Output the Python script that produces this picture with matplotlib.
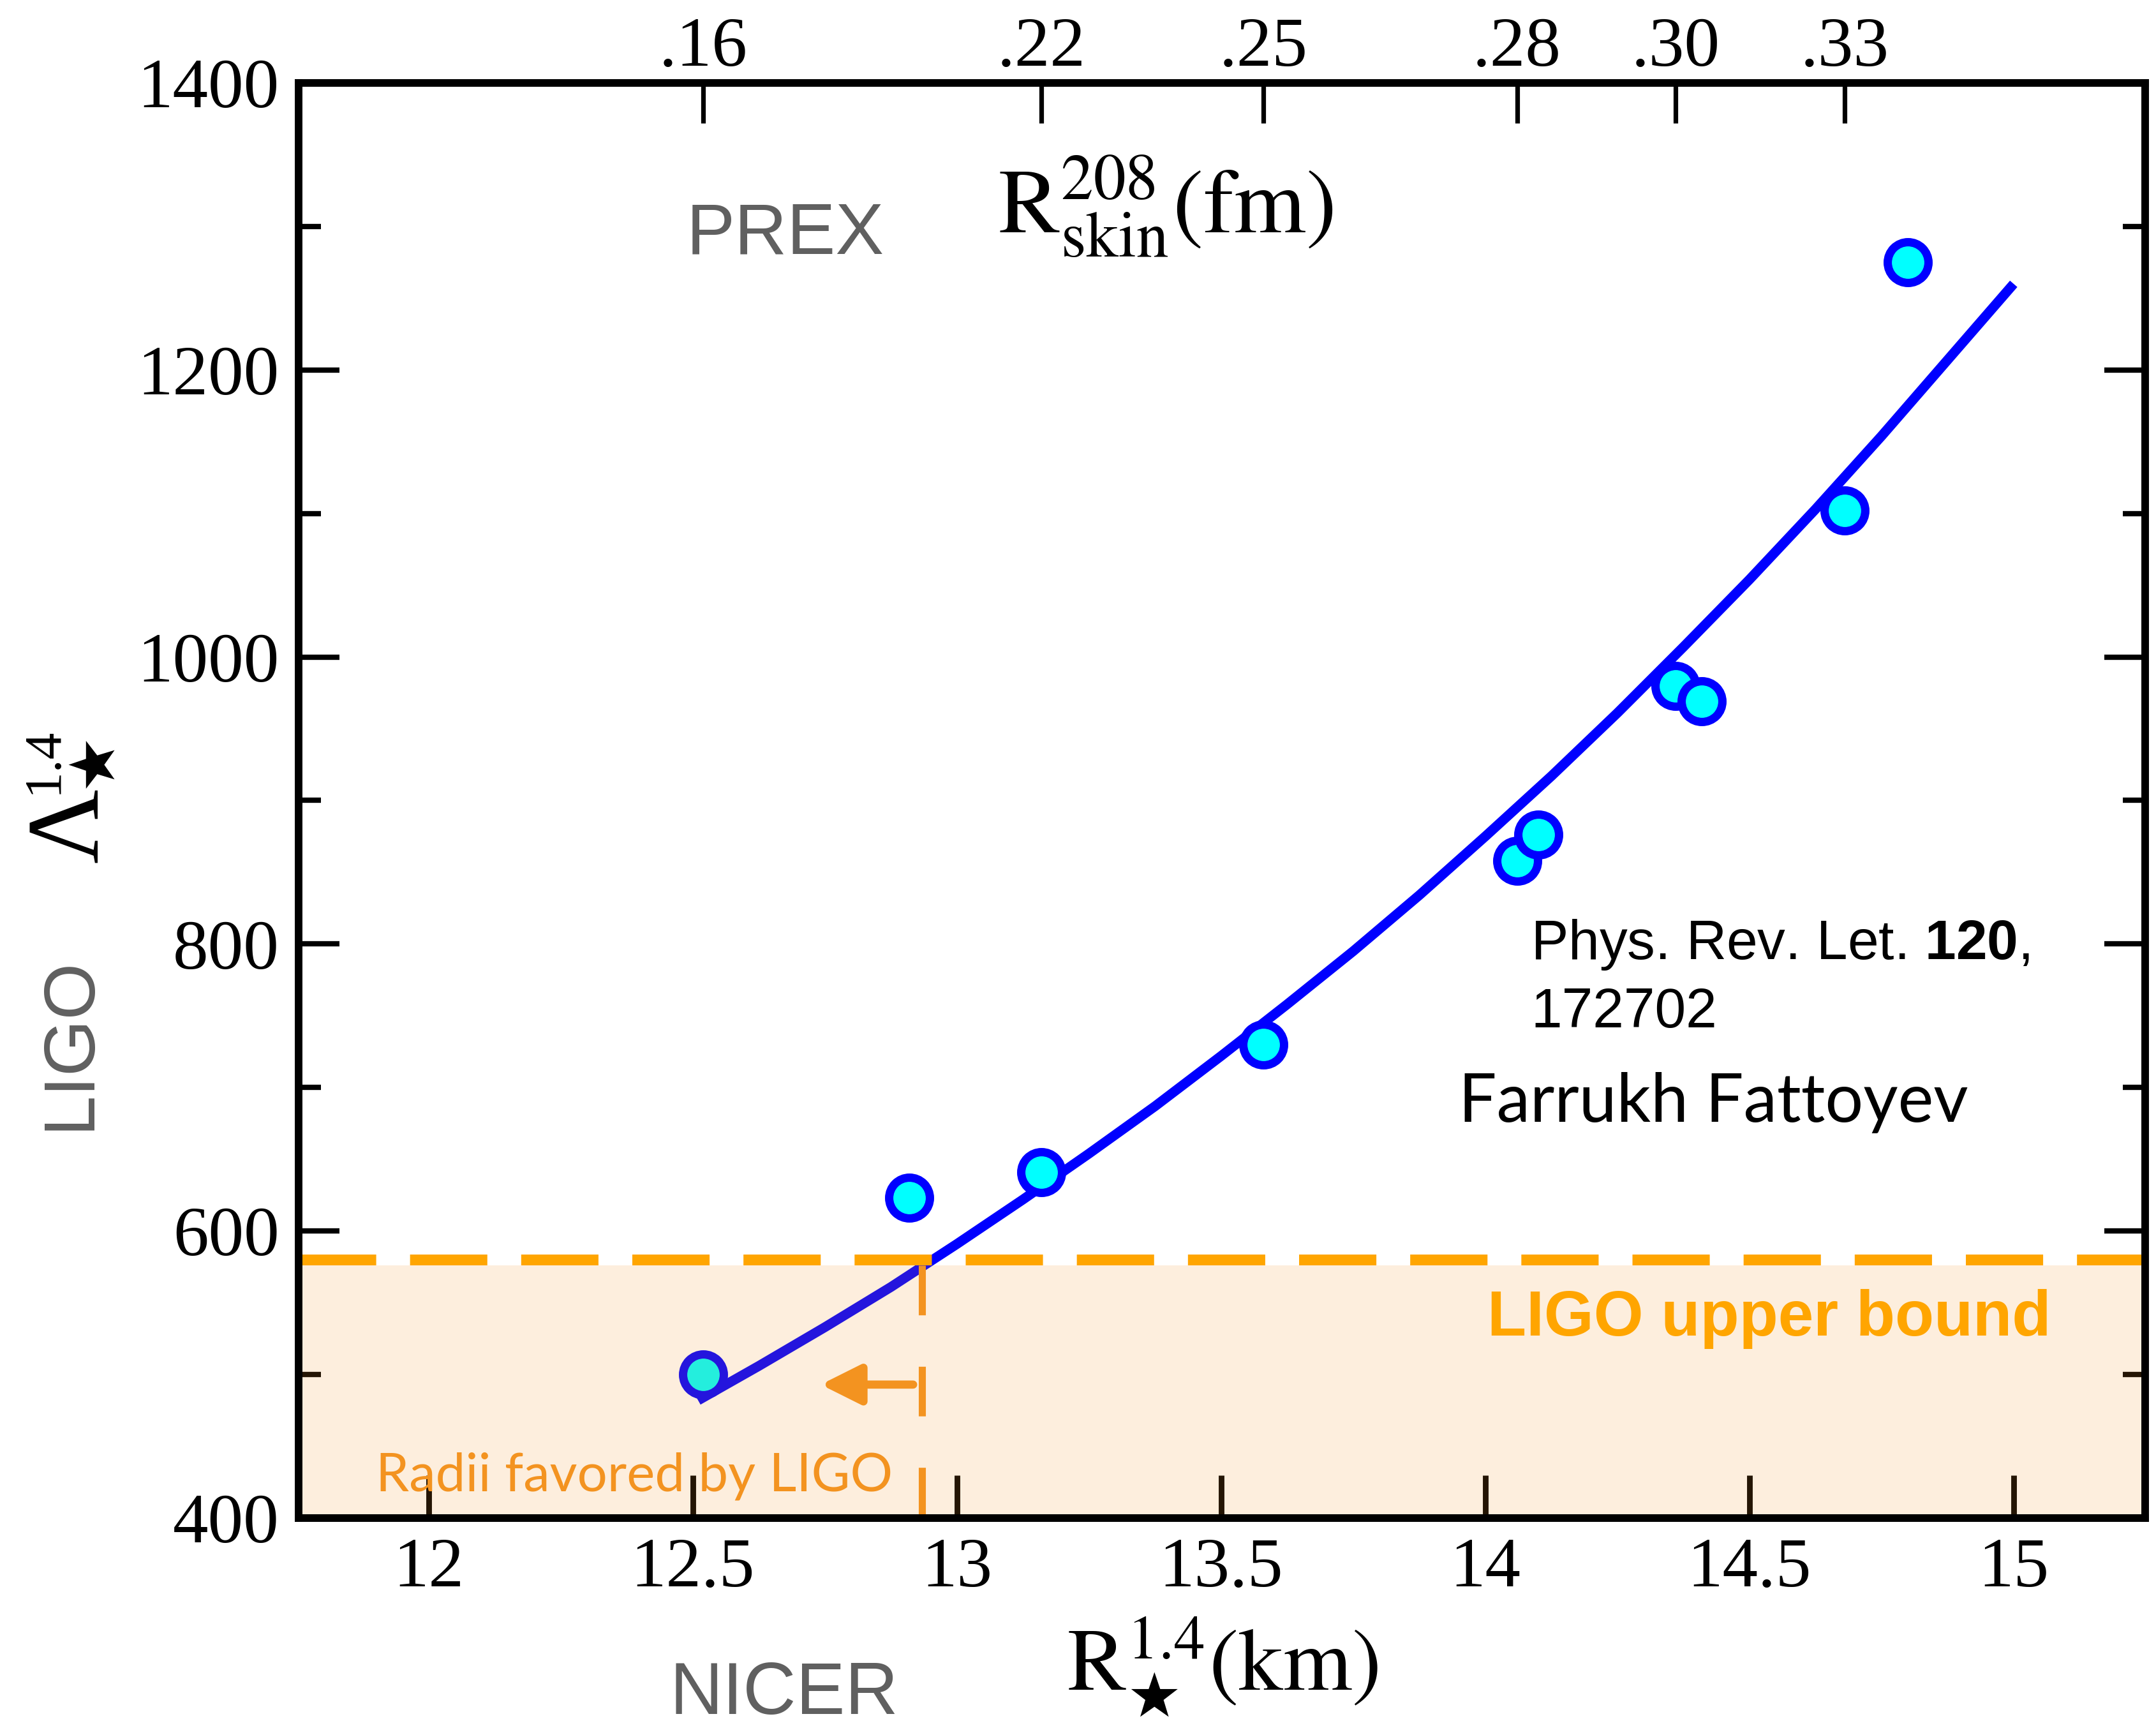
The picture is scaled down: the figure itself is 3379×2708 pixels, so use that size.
import matplotlib
matplotlib.use("Agg")
import matplotlib.pyplot as plt

plt.rcParams['lines.scale_dashes'] = False
plt.rcParams['mathtext.fontset'] = 'custom'
plt.rcParams['mathtext.rm'] = 'Liberation Sans'
plt.rcParams['mathtext.bf'] = 'Liberation Sans:bold'
plt.rcParams['font.family'] = ['Liberation Serif', 'DejaVu Sans']

# ---------------- data ----------------
r_star = [12.52, 12.91, 13.16, 13.58, 14.06, 14.10, 14.36, 14.41, 14.68, 14.80]
lam_star = [500, 623, 641, 730, 858, 876, 980, 969, 1102, 1275]

curve_r = [12.51, 12.625, 12.75, 12.875, 13.0, 13.125, 13.25, 13.375, 13.5, 13.625,
           13.75, 13.875, 14.0, 14.125, 14.25, 14.375, 14.5, 14.625, 14.75, 14.875, 15.0]
curve_lam = [482, 506, 533, 561, 591, 622, 654, 687, 722, 758,
             795, 834, 875, 917, 961, 1007, 1054, 1103, 1154, 1207, 1260]

x_ticks = [12, 12.5, 13, 13.5, 14, 14.5, 15]
x_ticklabels = ['12', '12.5', '13', '13.5', '14', '14.5', '15']
y_major = [400, 600, 800, 1000, 1200, 1400]
y_minor = [500, 700, 900, 1100, 1300]

skin_r = [12.52, 13.16, 13.58, 14.06, 14.36, 14.68]
skin_labels = ['.16', '.22', '.25', '.28', '.30', '.33']

ligo_bound = 580
shade_top = 576
r_cross = 12.934
arrow_y = 493
arrow_from = 12.917
arrow_to = 12.742

x_lim = (11.754, 15.249)
y_lim = (400, 1400)

ORANGE = '#FFA500'
DKORANGE = '#F39320'
GRAY = '#606060'

W, H = 3380, 2708

# ---------------- figure ----------------
fig = plt.figure(figsize=(16.9, 13.54), dpi=200)
ax = fig.add_axes([0.1385, 0.1215, 0.8562, 0.8305])
ax.set_xlim(*x_lim)
ax.set_ylim(*y_lim)
ax.set_axisbelow(True)

for s in ax.spines.values():
    s.set_linewidth(4.3)
    s.set_zorder(10)

ax.set_xticks(x_ticks)
ax.set_xticklabels(x_ticklabels)
ax.set_yticks(y_major)
ax.set_yticks(y_minor, minor=True)
ax.tick_params(axis='x', which='major', direction='in', length=24, width=3.2,
               pad=11, labelsize=40, top=False, bottom=True)
ax.tick_params(axis='y', which='major', direction='in', length=23, width=3.0,
               pad=11, labelsize=40, left=True, right=True)
ax.tick_params(axis='y', which='minor', direction='in', length=12.6, width=3.0,
               left=True, right=True)
for lab in ax.get_xticklabels() + ax.get_yticklabels():
    lab.set_family('Liberation Serif')

# curve and points
ax.plot(curve_r, curve_lam, color='#0000FF', lw=5.5, solid_capstyle='butt',
        solid_joinstyle='round', zorder=2)
ax.plot(r_star, lam_star, 'o', ms=23, mew=4.7, mfc='#00FFFF', mec='#0000FF',
        zorder=2.5, linestyle='none')

# LIGO shaded region (drawn over ticks/line)
ax.axhspan(y_lim[0], shade_top, color=DKORANGE, alpha=0.15, lw=0, zorder=3)
ax.axhline(ligo_bound, color=ORANGE, lw=6.1, dashes=(43.6, 19.1), zorder=4)

# vertical dashed line and arrow
ax.plot([r_cross, r_cross], [shade_top, y_lim[0]], color=DKORANGE, lw=4.0,
        dashes=(28, 29), zorder=4, dash_capstyle='butt')
ax.annotate('', xy=(arrow_to, arrow_y), xytext=(arrow_from, arrow_y),
            arrowprops=dict(arrowstyle='-|>,head_length=1.9,head_width=0.95',
                            mutation_scale=10, lw=4.6, color=DKORANGE,
                            shrinkA=0, shrinkB=0), zorder=5)

# in-plot texts
ax.text(11.900, 418.7, 'Radii favored by LIGO', family='Lato', size=30,
        color=DKORANGE, va='baseline', ha='left', zorder=5)
ax.text(14.004, 527, 'LIGO upper bound', family='Liberation Sans', weight='bold',
        size=36, color=ORANGE, va='baseline', ha='left', zorder=5)
ax.text(14.086, 789.7, r'Phys. Rev. Let. $\mathbf{120}$,', family='Liberation Sans',
        size=31.5, color='black', va='baseline', ha='left', zorder=5)
ax.text(14.086, 742, '172702', family='Liberation Sans', size=31.5,
        color='black', va='baseline', ha='left', zorder=5)
ax.text(13.949, 675.9, 'Farrukh Fattoyev', family='Lato', size=38,
        color='black', va='baseline', ha='left', zorder=5)

# top axis (neutron skin)
ax2 = ax.twiny()
ax2.set_xlim(*x_lim)
ax2.set_xticks(skin_r)
ax2.set_xticklabels(skin_labels)
ax2.tick_params(axis='x', direction='in', length=22.7, width=2.6, pad=1.5,
                labelsize=40)
for lab in ax2.get_xticklabels():
    lab.set_family('Liberation Serif')
for s in ax2.spines.values():
    s.set_visible(False)

# axis labels
fig.text(0.5669, (H - 2648) / H, r'$\mathrm{R}^{1.4}_{\bigstar}\mathrm{(km)}$', size=50,
         ha='center', va='baseline', math_fontfamily='stix')
fig.text(1564 / W, (H - 365) / H, r'$\mathrm{R}^{208}_{\mathrm{skin}}\mathrm{(fm)}$',
         size=52, ha='left', va='baseline', math_fontfamily='stix')

# y label: Lambda^{1.4}_star (rotated), built from pieces
fig.text(152 / W, (H - 1352) / H, '\u039b', family='Liberation Serif', size=58,
         rotation=90, rotation_mode='anchor', ha='left', va='baseline')
fig.text(89 / W, (H - 1244) / H, '1.4', family='Liberation Serif', size=30,
         rotation=90, rotation_mode='anchor', ha='left', va='baseline')
fig.text(150 / W, (H - 1200) / H, r'$\bigstar$', size=36, rotation=90,
         ha='center', va='center', math_fontfamily='stix')

fig.text(1076 / W, (H - 397) / H, 'PREX', family='Liberation Sans',
         size=41, color=GRAY, ha='left', va='baseline')
fig.text(1050 / W, (H - 2686) / H, 'NICER', family='Liberation Sans',
         size=41.5, color=GRAY, ha='left', va='baseline')
fig.text(140 / W, (H - 1635) / H, 'LIGO', family='Liberation Sans',
         size=41, color=GRAY, rotation=90, rotation_mode='anchor',
         ha='center', va='baseline')

fig.savefig('out.png', dpi=200)
